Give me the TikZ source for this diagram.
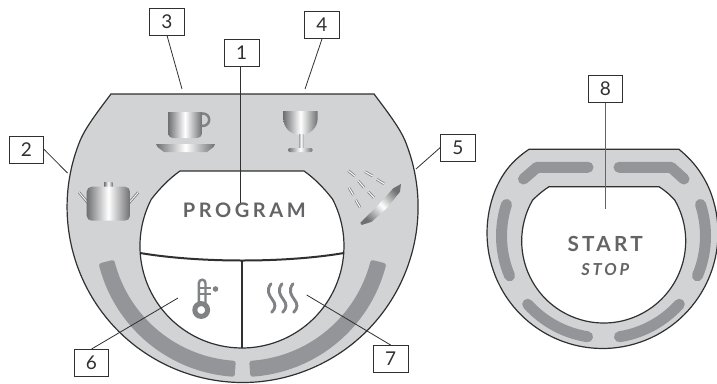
\documentclass[tikz,border=0pt]{standalone}
\usepackage{fontspec}
\setmainfont{Lato}
\newfontfamily\labfont[LetterSpace=18,UprightFont=* Bold]{Lato}
\newfontfamily\startfont[LetterSpace=15.5,UprightFont=* Bold]{Lato}
\newfontfamily\stopfont[LetterSpace=17,UprightFont=* Bold Italic]{Lato}
\definecolor{panel}{HTML}{D1D3D4}
\definecolor{bandc}{HTML}{939598}
\definecolor{edge}{HTML}{2F3032}
\definecolor{icon}{HTML}{808285}
\definecolor{metald}{HTML}{6F7073}
\definecolor{txt}{HTML}{636466}
\tikzset{
 numbox/.style={draw=edge,line width=0.9pt,fill=white,minimum width=34.5pt,minimum height=27pt,inner sep=0pt,font=\fontsize{19}{19}\selectfont,text=edge},
 leader/.style={draw=edge,line width=0.8pt},
 outline/.style={draw=edge,line width=1.2pt},
 metal/.style={left color=metald,right color=metald,middle color=white},
 ringseg/.style={draw=bandc,line width=11pt,line cap=round,line join=round},
 glyph/.style={draw=icon,line width=2.9pt,line cap=round},
 droplet/.style={draw=icon,line width=2.6pt},
 dropin/.style={draw=white,line width=1pt}
}
\newcommand{\dropline}[4]{\draw[droplet] (#1,#2) -- (#3,#4); \draw[dropin] (#1,#2) -- (#3,#4);}
\begin{document}
\begin{tikzpicture}[x=1pt,y=1pt,yscale=-1]
\useasboundingbox (0,0) rectangle (717,383);
% left panel
\path[fill=panel,outline] (111,94) -- (374,94) .. controls (390,115) and (400,129) .. (404.8,140.1)
  arc (-22.4:202.4:175.5) .. controls (85,129) and (95,115) .. (111,94) -- cycle;
\begin{scope}[shift={(242.5,229)}]
\fill[bandc,draw=bandc,line width=5pt,line join=round] (165.5:145.5) arc (165.5:94:145.5) -- (94:134.5) arc (94:165.5:134.5) -- cycle;
\fill[bandc,draw=bandc,line width=5pt,line join=round] (14.5:145.5) arc (14.5:86:145.5) -- (86:134.5) arc (86:14.5:134.5) -- cycle;
\end{scope}
\path[fill=white,outline] (180,171) -- (304,171) .. controls (314,178) and (324,188) .. (332.6,199.2)
  arc (-27.3:207.3:102) .. controls (160,188) and (170,178) .. (180,171) -- cycle;
\draw[edge,line width=2pt] (140,253) .. controls (200,263) and (285,263) .. (344,253);
\draw[edge,line width=1.7pt] (242,260.5) -- (242,348);
% pot
\draw[icon,line width=2.6pt] (88,203) -- (79,192.3);
\draw[white,line width=.8pt] (88,203) -- (79,192.3);
\draw[icon,line width=2.6pt] (129,203) -- (138.3,192.3);
\draw[white,line width=.8pt] (129,203) -- (138.3,192.3);
\shade[metal] (104,187.5) -- (104,182.7) -- (112.7,182.7) -- (112.7,187.5) -- cycle;
\shade[metal,rounded corners=5pt] (86.7,186.7) rectangle (130,220.7);
% cup
\draw[icon,line width=2.5pt] (203,119.7) circle (6.2);
\shade[metal] (168,112) -- (202,112) -- (202,132) .. controls (202,136) and (200,138) .. (196,138) -- (174,138) .. controls (170,138) and (168,136) .. (168,132) -- cycle;
\shade[metal] (156,144) -- (215,144) -- (213.5,147) -- (207,152) -- (164,152) -- (157.5,147) -- cycle;
% glass
\shade[metal] (283.3,111) -- (317.7,111) -- (317.7,118) .. controls (317.7,128) and (310,135) .. (300.5,135) .. controls (291,135) and (283.3,128) .. (283.3,118) -- cycle;
\shade[left color=icon!70!white,right color=icon!70!white,middle color=white] (299,134.5) rectangle (303.5,148);
\shade[metal,rounded corners=2pt] (288,148) rectangle (312.7,152);
% spray
\shade[left color=metald,right color=metald,middle color=white,shading angle=-45]
  (360.3,222.7) -- (376.7,206.7) -- (393.3,188.3) -- (401,184) -- (400,191.7) -- (386.7,208.3) -- (371.7,221.7) -- (361.7,225) -- cycle;
\dropline{348.3}{170.7}{354.7}{176}
\dropline{365}{171.7}{372.7}{176}
\dropline{376.7}{179.3}{384}{183.7}
\dropline{358.3}{181}{364.3}{187.7}
\dropline{349}{187.7}{353.3}{195}
\dropline{368.3}{191.7}{374}{197.7}
\dropline{355.7}{200}{360}{207.3}
% thermometer
\draw[glyph,line width=2.4pt,line cap=butt] (198.9,304) -- (198.9,283) arc (180:360:3.3) -- (205.5,304);
\draw[glyph,line width=5pt] (201.2,310) circle (6.4);
\draw[icon,line width=2.2pt] (198,288.3) -- (211,288.3);
\draw[icon,line width=2.2pt] (198,294) -- (211,294);
\fill[icon] (215.5,289) circle (2.8);
% steam
\foreach \dx in {0,11,22}{
 \draw[glyph,xshift=\dx] (271,283.8) .. controls (266,290) and (269,295) .. (272,299) .. controls (276,304) and (276,308) .. (271.7,312.3);
}
% right panel
\path[fill=panel,outline] (529,149.3) -- (679,149.3) .. controls (692,160) and (702,172) .. (709.6,189.7)
  arc (-22:202:115.5) .. controls (503,172) and (513,160) .. (529,149.3) -- cycle;
\begin{scope}[shift={(603.5,236)}]
\draw[ringseg] (198:102) arc (198:157:102);
\draw[ringseg] (138:102) arc (138:99:102);
\draw[ringseg] (42:102) arc (42:81:102);
\draw[ringseg] (-18:102) arc (-18:23:102);
\end{scope}
\draw[ringseg] (523.5,179) -- (537,167.3) -- (588,167.3);
\draw[ringseg] (684,179) -- (671,167.3) -- (619,167.3);
\path[fill=white,outline] (549,186.7) -- (659,186.7) .. controls (667,192) and (670,195) .. (674.7,200)
  arc (-30:210:82) .. controls (538,195) and (541,192) .. (549,186.7) -- cycle;
% texts
\node[font=\labfont\fontsize{20}{20}\selectfont,text=txt,inner sep=0pt] (prog) at (244.3,210.7) {PROGRAM};
\node[font=\startfont\fontsize{20.8}{20}\selectfont,text=txt,inner sep=0pt] (start) at (605.2,244.2) {START};
\node[font=\stopfont\fontsize{16.5}{16}\selectfont,text=txt,inner sep=0pt] (stop) at (605.2,270) {STOP};
% number boxes
\node[numbox] (n1) at (241.7,52.5) {1};
\node[numbox] (n2) at (26.5,149.5) {2};
\node[numbox] (n3) at (167,21.5) {3};
\node[numbox] (n4) at (322,25) {4};
\node[numbox] (n5) at (458,147.5) {5};
\node[numbox] (n6) at (91.5,363) {6};
\node[numbox] (n7) at (390.7,359) {7};
\node[numbox] (n8) at (605.5,89) {8};
\coordinate (e1) at (240,203);
\coordinate (e2) at (67.5,173);
\coordinate (e3) at (182,89);
\coordinate (e4) at (305,89);
\coordinate (e5) at (416,169);
\coordinate (e6) at (178,298);
\coordinate (e7) at (306.7,295);
\coordinate (e8) at (605,209);
\draw[leader] (n1.south -| e1) -- (e1);
\draw[leader] (n2.east) -- (e2);
\draw[leader] (n3.south) -- (e3);
\draw[leader] (n4.south) -- (e4);
\draw[leader] (n5.west) -- (e5);
\draw[leader] (n6.north) -- (e6);
\draw[leader] (n7.north) -- (e7);
\draw[leader,draw=txt] (n8.south -| e8) -- (e8);
\end{tikzpicture}
\end{document}
